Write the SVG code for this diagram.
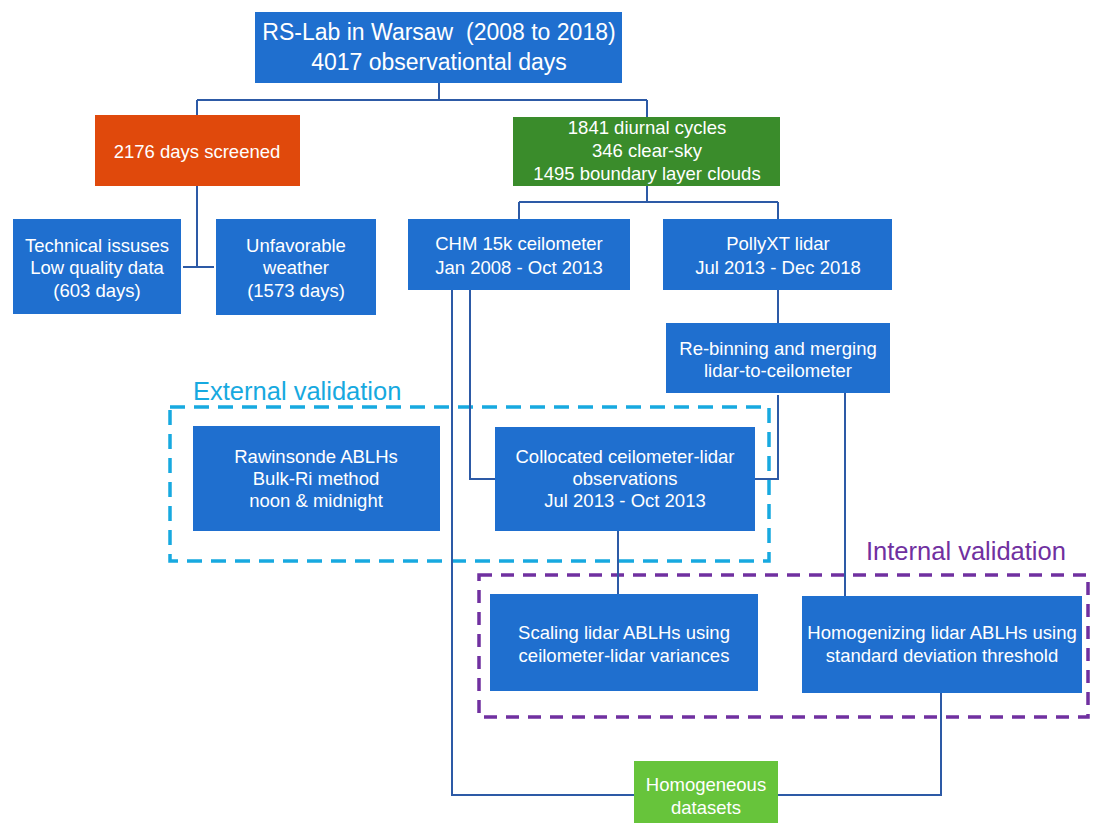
<svg xmlns="http://www.w3.org/2000/svg" width="1095" height="823" viewBox="0 0 1095 823">
<style>
.box{fill:#1f6fcf;}
.orange{fill:#e0490c;}
.dgreen{fill:#3a8c2b;}
.lgreen{fill:#67c43b;}
.t{font-family:"Liberation Sans",Arial,sans-serif;font-size:18.5px;fill:#ffffff;text-anchor:middle;}
.big{font-size:23px;white-space:pre;}
.conn{fill:none;stroke:#2d5aa6;stroke-width:2;}
.ext{fill:none;stroke:#17a9e0;stroke-width:3.5;stroke-dasharray:15 9;}
.int{fill:none;stroke:#7030a0;stroke-width:3.5;stroke-dasharray:13 9;}
.lab{font-family:"Liberation Sans",Arial,sans-serif;font-size:25.5px;}
</style>
<rect width="1095" height="823" fill="#ffffff"/>
<g id="groups">
<rect class="ext" x="170" y="407" width="599" height="154"/>
<text class="lab" x="193" y="400" fill="#17a9e0">External validation</text>
<rect class="int" x="479" y="575" width="609" height="142"/>
<text class="lab" x="866" y="560" fill="#7030a0">Internal validation</text>
</g>
<g id="connectors">
<path class="conn" d="M439,83 V100 M197,100 H647 M197,100 V115 M647,100 V117"/>
<path class="conn" d="M197,186 V267 M183,267 H214"/>
<path class="conn" d="M647,186 V202 M519,202 H778 M519,202 V219 M778,202 V219"/>
<path class="conn" d="M778,290 V323"/>
<path class="conn" d="M452,290 V795 H634"/>
<path class="conn" d="M470,290 V479 H495"/>
<path class="conn" d="M778,395 V479 H755"/>
<path class="conn" d="M845,393 V596"/>
<path class="conn" d="M618,531 V594"/>
<path class="conn" d="M941,693 V795 H778"/>
</g>
<g id="n-root">
<rect class="box" x="255" y="12" width="367" height="71"/>
<text class="t big" x="439" y="40">RS-Lab in Warsaw  (2008 to 2018)</text>
<text class="t big" x="439" y="70">4017 observationtal days</text>
</g>
<g id="n-screened">
<rect class="orange" x="95" y="115" width="205" height="71"/>
<text class="t" x="197" y="157.5">2176 days screened</text>
</g>
<g id="n-technical">
<rect class="box" x="13" y="219" width="168" height="95"/>
<text class="t" x="97" y="251.5">Technical issuses</text>
<text class="t" x="97" y="274">Low quality data</text>
<text class="t" x="97" y="296.5">(603 days)</text>
</g>
<g id="n-weather">
<rect class="box" x="216" y="219" width="160" height="96"/>
<text class="t" x="296" y="251.5">Unfavorable</text>
<text class="t" x="296" y="274">weather</text>
<text class="t" x="296" y="296.5">(1573 days)</text>
</g>
<g id="n-cycles">
<rect class="dgreen" x="513" y="117" width="267" height="69"/>
<text class="t" x="647" y="134">1841 diurnal cycles</text>
<text class="t" x="647" y="157">346 clear-sky</text>
<text class="t" x="647" y="180">1495 boundary layer clouds</text>
</g>
<g id="n-chm">
<rect class="box" x="408" y="219" width="222" height="71"/>
<text class="t" x="519" y="249.5">CHM 15k ceilometer</text>
<text class="t" x="519" y="273.5">Jan 2008 - Oct 2013</text>
</g>
<g id="n-polly">
<rect class="box" x="663" y="219" width="229" height="71"/>
<text class="t" x="778" y="249.5">PollyXT lidar</text>
<text class="t" x="778" y="273.5">Jul 2013 - Dec 2018</text>
</g>
<g id="n-rebin">
<rect class="box" x="666" y="323" width="224" height="70"/>
<text class="t" x="778" y="354.5">Re-binning and merging</text>
<text class="t" x="778" y="376.5">lidar-to-ceilometer</text>
</g>
<g id="n-rawinsonde">
<rect class="box" x="193" y="426" width="247" height="105"/>
<text class="t" x="316" y="462.5">Rawinsonde ABLHs</text>
<text class="t" x="316" y="484.5">Bulk-Ri method</text>
<text class="t" x="316" y="506.5">noon &amp; midnight</text>
</g>
<g id="n-collocated">
<rect class="box" x="495" y="427" width="260" height="104"/>
<text class="t" x="625" y="462.5">Collocated ceilometer-lidar</text>
<text class="t" x="625" y="484.5">observations</text>
<text class="t" x="625" y="506.5">Jul 2013 - Oct 2013</text>
</g>
<g id="n-scaling">
<rect class="box" x="490" y="594" width="268" height="97"/>
<text class="t" x="624" y="638.5">Scaling lidar ABLHs using</text>
<text class="t" x="624" y="661.5">ceilometer-lidar variances</text>
</g>
<g id="n-homogenizing">
<rect class="box" x="802" y="596" width="280" height="97"/>
<text class="t" x="942" y="638.5">Homogenizing lidar ABLHs using</text>
<text class="t" x="942" y="661.5">standard deviation threshold</text>
</g>
<g id="n-homogeneous">
<rect class="lgreen" x="634" y="761" width="144" height="62"/>
<text class="t" x="706" y="790.5">Homogeneous</text>
<text class="t" x="706" y="813.5">datasets</text>
</g>
</svg>
